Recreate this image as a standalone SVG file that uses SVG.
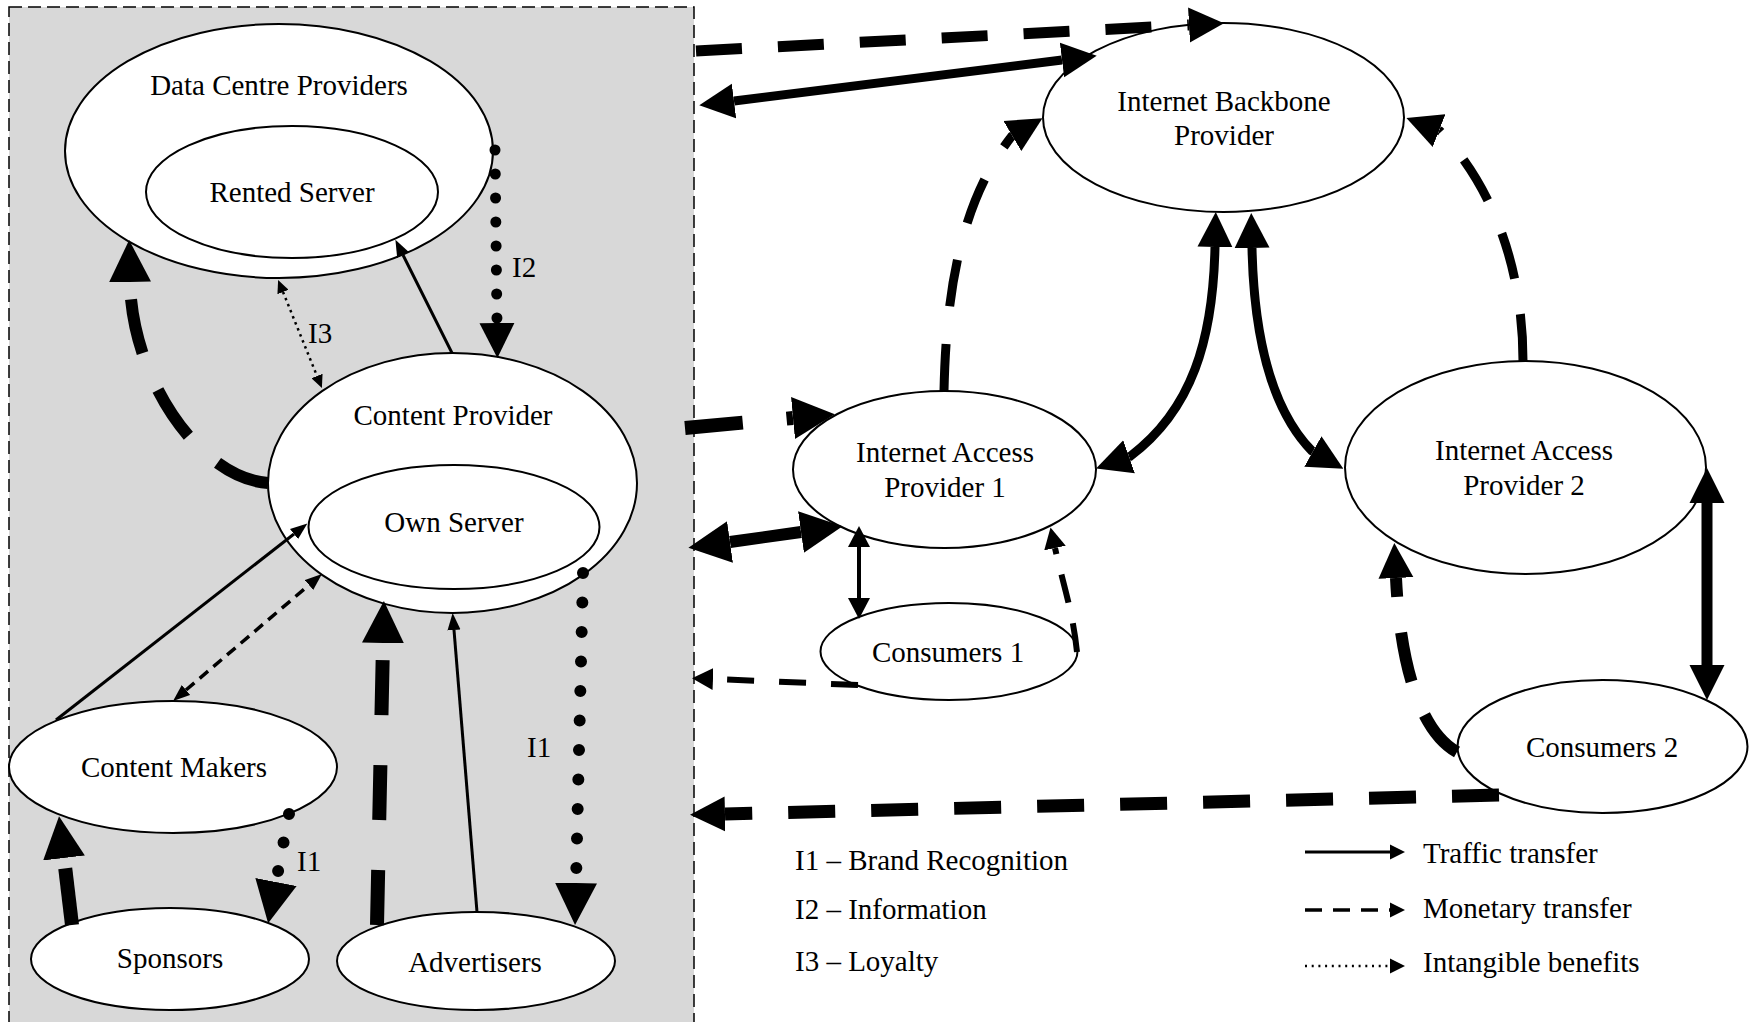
<svg xmlns="http://www.w3.org/2000/svg" width="1755" height="1022" viewBox="0 0 1755 1022">
<style>
  .node { fill: #ffffff; stroke: #000000; stroke-width: 2; }
  .lbl { font-family: "Liberation Serif", "Times New Roman", serif; font-size: 29px; fill: #000000; }
  .mid { text-anchor: middle; }
  .c { fill: none; stroke: #000000; }
  .dotted { stroke-linecap: round; }
</style>
<defs>
  <marker id="hB" markerUnits="userSpaceOnUse" viewBox="0 -21 42 42" markerWidth="42" markerHeight="42" refX="0" refY="0" orient="auto-start-reverse"><path d="M0,-21L42,0L0,21z" fill="#000"/></marker>
  <marker id="hM" markerUnits="userSpaceOnUse" viewBox="0 -18 35 36" markerWidth="35" markerHeight="36" refX="0" refY="0" orient="auto-start-reverse"><path d="M0,-17.5L35,0L0,17.5z" fill="#000"/></marker>
  <marker id="hN" markerUnits="userSpaceOnUse" viewBox="0 -11 21 22" markerWidth="21" markerHeight="22" refX="0" refY="0" orient="auto-start-reverse"><path d="M0,-11L21,0L0,11z" fill="#000"/></marker>
  <marker id="hS" markerUnits="userSpaceOnUse" viewBox="0 -7 17 14" markerWidth="17" markerHeight="14" refX="0" refY="0" orient="auto-start-reverse"><path d="M0,-6.5L17,0L0,6.5z" fill="#000"/></marker>
  <marker id="hT" markerUnits="userSpaceOnUse" viewBox="0 -6 13 12" markerWidth="13" markerHeight="12" refX="0" refY="0" orient="auto-start-reverse"><path d="M0,-6L13,0L0,6z" fill="#000"/></marker>
  <marker id="hL" markerUnits="userSpaceOnUse" viewBox="0 -8 15 16" markerWidth="15" markerHeight="16" refX="0" refY="0" orient="auto"><path d="M0,-7.5L15,0L0,7.5z" fill="#000"/></marker>
</defs>

<rect x="0" y="0" width="1755" height="1022" fill="#ffffff"/>

<g id="content-domain">
  <rect x="9" y="7" width="685" height="1030" fill="#d8d8d8" stroke="#000" stroke-width="1.5" stroke-dasharray="13 6"/>
</g>

<g id="node-data-centre-providers">
  <ellipse class="node" cx="279" cy="151" rx="214" ry="127"/>
  <text class="lbl mid" x="279" y="95">Data Centre Providers</text>
</g>
<g id="node-rented-server">
  <ellipse class="node" cx="292" cy="192" rx="146" ry="66"/>
  <text class="lbl mid" x="292" y="202">Rented Server</text>
</g>
<g id="node-content-provider">
  <ellipse class="node" cx="452.5" cy="483" rx="184.5" ry="130"/>
  <text class="lbl mid" x="453" y="425">Content Provider</text>
</g>
<g id="node-own-server">
  <ellipse class="node" cx="454" cy="527" rx="145.5" ry="62"/>
  <text class="lbl mid" x="454" y="532">Own Server</text>
</g>
<g id="node-content-makers">
  <ellipse class="node" cx="173" cy="767" rx="164" ry="66"/>
  <text class="lbl mid" x="174" y="777">Content Makers</text>
</g>
<g id="node-sponsors">
  <ellipse class="node" cx="170" cy="959" rx="139" ry="51"/>
  <text class="lbl mid" x="170" y="968">Sponsors</text>
</g>
<g id="node-advertisers">
  <ellipse class="node" cx="476" cy="961" rx="139" ry="49"/>
  <text class="lbl mid" x="475" y="972">Advertisers</text>
</g>
<g id="node-backbone">
  <ellipse class="node" cx="1223.5" cy="117.5" rx="180.5" ry="94.5"/>
  <text class="lbl mid" x="1224" y="111">Internet Backbone</text>
  <text class="lbl mid" x="1224" y="145">Provider</text>
</g>
<g id="node-access-1">
  <ellipse class="node" cx="944.5" cy="469.5" rx="151.5" ry="78.5"/>
  <text class="lbl mid" x="945" y="462">Internet Access</text>
  <text class="lbl mid" x="945" y="497">Provider 1</text>
</g>
<g id="node-access-2">
  <ellipse class="node" cx="1525.5" cy="467.5" rx="180.5" ry="106.5"/>
  <text class="lbl mid" x="1524" y="460">Internet Access</text>
  <text class="lbl mid" x="1524" y="495">Provider 2</text>
</g>
<g id="node-consumers-1">
  <ellipse class="node" cx="949" cy="651.5" rx="128.5" ry="48.5"/>
  <text class="lbl mid" x="948" y="662">Consumers 1</text>
</g>
<g id="node-consumers-2">
  <ellipse class="node" cx="1602.5" cy="746.5" rx="145" ry="66.5"/>
  <text class="lbl mid" x="1602" y="757">Consumers 2</text>
</g>

<g id="connectors">
  <!-- left side -->
  <path class="c" d="M268,483 C200,478 132,380 130,282" stroke-width="12" stroke-dasharray="55 40" marker-end="url(#hB)"/>
  <path class="c" d="M452,353 L403,255" stroke-width="3" marker-end="url(#hS)"/>
  <path class="c" d="M283,292 L317,376" stroke-width="2.5" stroke-dasharray="2.5 4" marker-start="url(#hT)" marker-end="url(#hT)"/>
  <path class="c dotted" d="M495,150 L497,323" stroke-width="11" stroke-dasharray="0 24" marker-end="url(#hM)"/>
  <path class="c" d="M56,720 L294,534" stroke-width="3" marker-end="url(#hS)"/>
  <path class="c" d="M186,690 L309,585" stroke-width="3.5" stroke-dasharray="11 7" marker-start="url(#hS)" marker-end="url(#hS)"/>
  <path class="c dotted" d="M289,814 L276,882" stroke-width="12" stroke-dasharray="0 29" marker-end="url(#hB)"/>
  <path class="c" d="M72,925 L64,858" stroke-width="14" stroke-dasharray="57 40" marker-end="url(#hB)"/>
  <path class="c" d="M377,925 L383,643" stroke-width="14" stroke-dasharray="55 50" marker-end="url(#hB)"/>
  <path class="c" d="M477,912 L454,630" stroke-width="3" marker-end="url(#hS)"/>
  <path class="c dotted" d="M583,573 L576,883" stroke-width="12" stroke-dasharray="0 29.5" marker-end="url(#hB)"/>
  <!-- right side -->
  <path class="c" d="M696,51 L1189,25" stroke-width="11" stroke-dasharray="46 36" marker-end="url(#hM)"/>
  <path class="c" d="M734,101 L1062,60" stroke-width="9" marker-start="url(#hM)" marker-end="url(#hM)"/>
  <path class="c" d="M685,428 L793,418" stroke-width="14" stroke-dasharray="58 44" marker-end="url(#hB)"/>
  <path class="c" d="M944,391 C946,300 958,205 1011.5,136.5 l0.86,-0.51" stroke-width="9" stroke-dasharray="47 38" marker-end="url(#hM)"/>
  <path class="c" d="M1523,361 C1523,280 1500,195 1440,131 l-0.93,-0.36" stroke-width="9" stroke-dasharray="47 36" marker-end="url(#hM)"/>
  <path class="c" d="M1215,247 C1213,340 1192,410 1130,456.5 l-0.94,0.33" stroke-width="9" marker-start="url(#hM)" marker-end="url(#hM)"/>
  <path class="c" d="M1252,248 C1254,340 1272,410 1312,451 l0.87,0.49" stroke-width="9" marker-start="url(#hM)" marker-end="url(#hM)"/>
  <path class="c" d="M730,542 L801,532" stroke-width="12" marker-start="url(#hB)" marker-end="url(#hB)"/>
  <path class="c" d="M859,547 L859,598" stroke-width="4" marker-start="url(#hN)" marker-end="url(#hN)"/>
  <path class="c" d="M1077,652 C1073,612 1062,580 1055,548" stroke-width="6" stroke-dasharray="29 21" marker-end="url(#hN)"/>
  <path class="c" d="M858,685 L713,679" stroke-width="6" stroke-dasharray="27 25" marker-end="url(#hN)"/>
  <path class="c" d="M1707,503 L1707,665" stroke-width="11" marker-start="url(#hM)" marker-end="url(#hM)"/>
  <path class="c" d="M1457,752 C1418,730 1400,660 1396,578" stroke-width="12" stroke-dasharray="50 36" marker-end="url(#hM)"/>
  <path class="c" d="M1499,795 L725,814" stroke-width="13" stroke-dasharray="47 36" marker-end="url(#hM)"/>
</g>

<g id="connector-labels">
  <text class="lbl" x="512" y="277">I2</text>
  <text class="lbl" x="308" y="343">I3</text>
  <text class="lbl" x="527" y="757">I1</text>
  <text class="lbl" x="297" y="871">I1</text>
</g>

<g id="legend">
  <text class="lbl" x="795" y="870">I1 – Brand Recognition</text>
  <text class="lbl" x="795" y="919">I2 – Information</text>
  <text class="lbl" x="795" y="971">I3 – Loyalty</text>
  <path class="c" d="M1305,852 L1390,852" stroke-width="3" marker-end="url(#hL)"/>
  <path class="c" d="M1305,910 L1390,910" stroke-width="3.5" stroke-dasharray="17 11" marker-end="url(#hL)"/>
  <path class="c" d="M1305,966 L1390,966" stroke-width="2.5" stroke-dasharray="2 4.7" marker-end="url(#hL)"/>
  <text class="lbl" x="1423" y="863">Traffic transfer</text>
  <text class="lbl" x="1423" y="918">Monetary transfer</text>
  <text class="lbl" x="1423" y="972">Intangible benefits</text>
</g>
</svg>
